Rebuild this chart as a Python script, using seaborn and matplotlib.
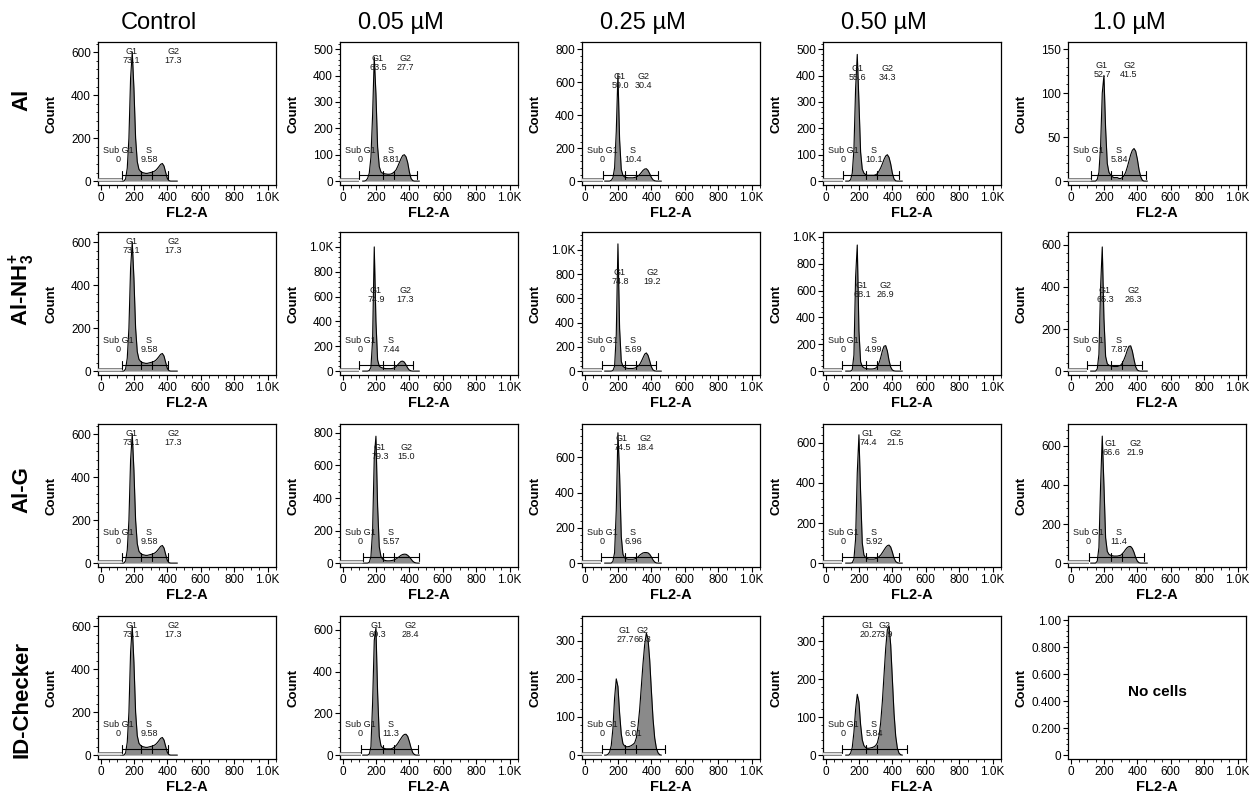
import numpy as np
import pandas as pd
import matplotlib
matplotlib.use("Agg")
import matplotlib.pyplot as plt
import seaborn as sns
from matplotlib.ticker import AutoMinorLocator, FixedLocator

sns.set_theme(style="ticks")
plt.rcParams['font.family'] = ['Liberation Sans', 'DejaVu Sans']
plt.rcParams['mathtext.fontset'] = 'custom'
plt.rcParams['mathtext.rm'] = 'Liberation Sans'
plt.rcParams['mathtext.bf'] = 'Liberation Sans:bold'
plt.rcParams['text.color'] = 'black'
plt.rcParams['axes.labelcolor'] = 'black'
plt.rcParams['xtick.color'] = 'black'
plt.rcParams['ytick.color'] = 'black'

# ---------------- data ----------------
col_titles = ["Control", "0.05 µM", "0.25 µM", "0.50 µM", "1.0 µM"]
row_titles = ["Al", r"Al-NH$_{\mathbf{3}}^{\mathbf{+}}$", "Al-G", "ID-Checker"]

# FL2-A channel (bin centres) shared by every histogram
fl2_bins = [120, 130, 140, 150, 160, 170, 180, 190, 200, 210, 220, 230, 240, 250,
            260, 270, 280, 290, 300, 310, 320, 330, 340, 350, 360, 370, 380, 390,
            400, 410, 420, 430, 440, 450, 460]

control = [0, 0, 0, 10, 60, 200, 480, 600, 430, 200, 90, 55, 45, 40, 38, 36, 36, 38, 40, 42,
           45, 50, 58, 68, 78, 82, 70, 40, 12, 2, 0, 0, 0, 0, 0]
al_005 = [0, 0, 2, 10, 30, 90, 250, 470, 330, 130, 55, 35, 30, 28, 27, 26, 26, 27, 30, 35,
          42, 55, 70, 85, 97, 100, 92, 70, 35, 10, 2, 0, 0, 0, 0]
al_025 = [0, 0, 0, 0, 5, 20, 80, 300, 650, 250, 70, 35, 25, 22, 20, 20, 20, 20, 22, 25,
          30, 40, 52, 65, 73, 75, 65, 45, 22, 8, 2, 0, 0, 0, 0]
al_050 = [0, 0, 0, 5, 30, 120, 350, 480, 300, 110, 45, 30, 25, 22, 22, 22, 22, 22, 24, 28,
          38, 50, 65, 82, 95, 100, 90, 65, 30, 8, 1, 0, 0, 0, 0]
al_100 = [0, 0, 0, 0, 2, 10, 40, 100, 120, 60, 20, 10, 7, 5, 4, 4, 4, 3, 3, 4,
          6, 10, 16, 23, 30, 35, 37, 34, 25, 13, 5, 1, 0, 0, 0]
nh3_005 = [0, 0, 0, 0, 5, 30, 250, 1000, 400, 90, 40, 30, 25, 22, 20, 20, 20, 20, 22, 25,
           35, 50, 65, 78, 80, 72, 50, 25, 8, 2, 0, 0, 0, 0, 0]
nh3_025 = [0, 0, 0, 0, 0, 5, 40, 300, 1050, 350, 80, 40, 30, 25, 22, 22, 22, 22, 25, 30,
           40, 55, 80, 110, 140, 150, 130, 85, 35, 10, 2, 0, 0, 0, 0]
nh3_050 = [0, 0, 0, 0, 10, 120, 700, 940, 300, 70, 35, 25, 20, 18, 16, 16, 16, 18, 22, 35,
           60, 100, 150, 185, 190, 150, 80, 30, 8, 2, 0, 0, 0, 0, 0]
nh3_100 = [0, 0, 0, 0, 10, 80, 400, 590, 250, 70, 35, 28, 25, 23, 22, 22, 22, 24, 28, 38,
           55, 75, 100, 118, 120, 95, 55, 20, 5, 1, 0, 0, 0, 0, 0]
g_005 = [0, 0, 0, 0, 5, 40, 200, 650, 780, 350, 100, 40, 25, 18, 15, 14, 14, 15, 17, 20,
         25, 32, 40, 48, 53, 55, 54, 48, 38, 25, 12, 4, 1, 0, 0]
g_025 = [0, 0, 0, 0, 0, 10, 60, 300, 740, 500, 150, 50, 30, 25, 22, 22, 22, 22, 24, 28,
         35, 45, 52, 58, 60, 60, 58, 50, 35, 18, 6, 1, 0, 0, 0]
g_050 = [0, 0, 0, 0, 2, 20, 120, 450, 640, 350, 100, 40, 28, 22, 20, 20, 20, 20, 22, 26,
         32, 40, 52, 65, 78, 87, 90, 80, 55, 25, 8, 2, 0, 0, 0]
g_100 = [0, 0, 0, 0, 10, 80, 400, 650, 400, 130, 60, 45, 40, 38, 36, 36, 36, 38, 40, 48,
         58, 70, 80, 85, 85, 75, 55, 28, 10, 2, 0, 0, 0, 0, 0]
id_005 = [0, 0, 0, 0, 5, 40, 250, 550, 610, 300, 90, 45, 35, 32, 30, 30, 30, 30, 33, 38,
          45, 55, 68, 80, 92, 99, 100, 90, 65, 35, 12, 3, 0, 0, 0]
id_025 = [0, 0, 2, 8, 25, 70, 150, 200, 180, 110, 55, 30, 24, 22, 22, 23, 25, 28, 32, 45,
          75, 120, 180, 240, 290, 320, 305, 250, 170, 95, 45, 18, 6, 1, 0]
id_050 = [0, 0, 0, 5, 20, 60, 120, 160, 140, 80, 40, 25, 20, 18, 18, 19, 20, 22, 25, 32,
          50, 85, 140, 210, 280, 330, 340, 290, 200, 110, 50, 18, 5, 1, 0]

counts_rows = [
    [control, al_005, al_025, al_050, al_100],
    [control, nh3_005, nh3_025, nh3_050, nh3_100],
    [control, g_005, g_025, g_050, g_100],
    [control, id_005, id_025, id_050, None],
]

# y-axis top and major tick step for each panel
ytop_rows = [[647, 527, 843, 527, 158],
             [647, 1120, 1148, 1037, 661],
             [647, 855, 790, 694, 712],
             [647, 667, 365, 366, 1.03]]
ystep_rows = [[200, 100, 200, 100, 50],
              [200, 200, 200, 200, 200],
              [200, 200, 200, 200, 200],
              [200, 200, 100, 100, 0.2]]

# gate percentages
g1_rows = [["73.1", "63.5", "59.0", "55.6", "52.7"],
           ["73.1", "74.9", "74.8", "68.1", "65.3"],
           ["73.1", "79.3", "74.5", "74.4", "66.6"],
           ["73.1", "60.3", "27.7", "20.2"]]
g2_rows = [["17.3", "27.7", "30.4", "34.3", "41.5"],
           ["17.3", "17.3", "19.2", "26.9", "26.3"],
           ["17.3", "15.0", "18.4", "21.5", "21.9"],
           ["17.3", "28.4", "66.3", "73.9"]]
s_rows = [["9.58", "8.81", "10.4", "10.1", "5.84"],
          ["9.58", "7.44", "5.69", "4.99", "7.87"],
          ["9.58", "5.57", "6.96", "5.92", "11.4"],
          ["9.58", "11.3", "6.01", "5.84"]]
subg1_pct = "0"

# gate boundaries (FL2-A)
gate_start_rows = [[127, 100, 110, 105, 123],
                   [127, 100, 105, 97, 100],
                   [127, 124, 100, 100, 110],
                   [127, 110, 102, 100]]
g1_end = 240
s_end = 308
gate_end_rows = [[402, 444, 440, 440, 449],
                 [402, 420, 430, 445, 430],
                 [402, 458, 440, 440, 440],
                 [402, 451, 481, 490]]

# label placement: (G1 x, G2 x, y fraction)
lab_rows = [[(187, 436, 0.90), (212, 374, 0.85), (212, 350, 0.72), (194, 368, 0.78), (188, 350, 0.80)],
            [(187, 436, 0.90), (200, 374, 0.55), (212, 404, 0.68), (218, 360, 0.58), (206, 374, 0.55)],
            [(187, 436, 0.90), (224, 380, 0.80), (224, 362, 0.86), (254, 416, 0.90), (242, 386, 0.83)],
            [(187, 436, 0.90), (206, 404, 0.90), (242, 344, 0.86), (254, 350, 0.90)]]

x_ticks = [0, 200, 400, 600, 800, 1000]
x_ticklabels = ["0", "200", "400", "600", "800", "1.0K"]

# ---------------- layout ----------------
W, H = 1249, 796
fig = plt.figure(figsize=(W / 100, H / 100), dpi=100)
col_left = [98, 340, 582, 823, 1068]
row_top = [42, 232, 424, 616]
aw, ah = 178, 143
fill_col = "#8a8a8a"


def ylab(v):
    if v >= 1000:
        return "%.1fK" % (v / 1000)
    return "%d" % v


for r in range(4):
    for c in range(5):
        l, t = col_left[c], row_top[r]
        ax = fig.add_axes([l / W, 1 - (t + ah) / H, aw / W, ah / H])
        T = ytop_rows[r][c]
        step = ystep_rows[r][c]
        ax.set_xlim(-15, 1050)
        ax.set_ylim(-0.028 * T, T)
        counts = counts_rows[r][c]
        if counts is not None:
            df = pd.DataFrame({"FL2-A": fl2_bins, "Count": counts})
            ax.fill_between(df["FL2-A"], 0, df["Count"], color=fill_col, lw=0, zorder=2)
            sns.lineplot(data=df, x="FL2-A", y="Count", ax=ax, color="black",
                         lw=0.8, zorder=3, estimator=None)
            # gates
            gs = gate_start_rows[r][c]
            ge = gate_end_rows[r][c]
            yg = 0.045 * T
            ys = 0.008 * T
            bar = 0.028 * T
            ax.plot([-15, gs], [ys, ys], color="#6a6a6a", lw=2.6, zorder=4, solid_capstyle="butt")
            ax.plot([-15, gs], [ys, ys], color="white", lw=1.1, zorder=5, solid_capstyle="butt")
            ax.plot([gs, ge], [yg, yg], color="black", lw=0.8, zorder=5)
            for xb in [gs, g1_end, s_end, ge]:
                ax.plot([xb, xb], [yg - bar, yg + bar], color="black", lw=0.8, zorder=5)
            # labels
            gx1, gx2, fy = lab_rows[r][c]
            ly = fy * T
            fs = 6.5
            tc = "#1a1a1a"
            ax.text(gx1, ly, "G1\n" + g1_rows[r][c], ha="center", va="center",
                    fontsize=fs, color=tc, linespacing=1.0, zorder=6)
            ax.text(gx2, ly, "G2\n" + g2_rows[r][c], ha="center", va="center",
                    fontsize=fs, color=tc, linespacing=1.0, zorder=6)
            ax.text(105, 0.19 * T, "Sub G1\n" + subg1_pct, ha="center", va="center",
                    fontsize=fs, color=tc, linespacing=1.0, zorder=6)
            ax.text(290, 0.19 * T, "S\n" + s_rows[r][c], ha="center", va="center",
                    fontsize=fs, color=tc, linespacing=1.0, zorder=6)
            yt = list(np.arange(0, T + 1e-9, step))
            ax.yaxis.set_major_locator(FixedLocator(yt))
            ax.set_yticklabels([ylab(v) for v in yt])
        else:
            yt = [0, 0.2, 0.4, 0.6, 0.8, 1.0]
            ax.yaxis.set_major_locator(FixedLocator(yt))
            ax.set_yticklabels(["0", "0.200", "0.400", "0.600", "0.800", "1.00"])
            ax.text(0.5, 0.47, "No cells", transform=ax.transAxes, ha="center",
                    va="center", fontsize=11, fontweight="bold", color="black")

        ax.xaxis.set_major_locator(FixedLocator(x_ticks))
        ax.set_xticklabels(x_ticklabels)
        ax.xaxis.set_minor_locator(AutoMinorLocator(4))
        ax.yaxis.set_minor_locator(AutoMinorLocator(5))
        ax.tick_params(axis="both", which="major", direction="out", length=3.5,
                       width=0.8, labelsize=8.5, pad=1.5, color="black", labelcolor="black")
        ax.tick_params(axis="both", which="minor", direction="out", length=1.8,
                       width=0.6, color="black")
        for sp in ax.spines.values():
            sp.set_visible(True)
            sp.set_color("black")
            sp.set_linewidth(0.9)
        ax.grid(False)
        ax.set_xlabel("FL2-A", fontsize=10.5, fontweight="bold", color="black")
        ax.xaxis.set_label_coords(0.5, -0.15)
        ax.set_ylabel("Count", fontsize=9.5, fontweight="bold", color="black")
        ax.yaxis.set_label_coords(-0.23, 0.5)

for c in range(5):
    cx = col_left[c] + aw / 2 - 28
    fig.text(cx / W, 1 - 23 / H, col_titles[c], ha="center", va="center",
             fontsize=17, color="black")

row_label_y = [100, 290, 490, 700]
for r in range(4):
    fig.text(22 / W, 1 - row_label_y[r] / H, row_titles[r], rotation=90, ha="center",
             va="center", fontsize=16, fontweight="bold", color="black")

fig.savefig("out.png", dpi=100)
